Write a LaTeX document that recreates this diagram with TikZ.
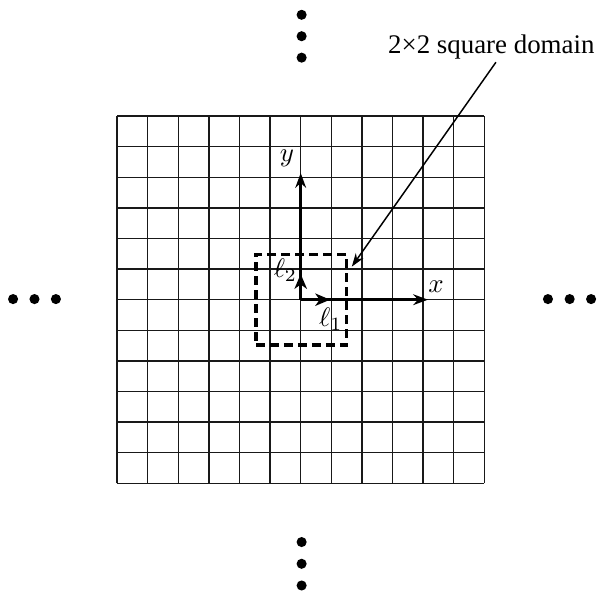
\documentclass[tikz,border=0pt]{standalone}
\usepackage{fontspec}
\setmainfont{Liberation Serif}
\usetikzlibrary{arrows.meta}
\tikzset{
    gridline/.style={black!90,line width=.5pt},
    axis/.style={line width=1pt,-{Stealth[length=5.5pt,width=4pt]}},
    unitvec/.style={line width=1pt,-{Stealth[length=5.5pt,width=4.6pt,inset=1.6pt]}},
    domainbox/.style={draw,line width=1.2pt,dash pattern=on 3.4pt off 1.8pt,minimum size=1.184cm,inner sep=0pt},
    pointer/.style={line width=.55pt,-{Stealth[length=5pt,width=3.4pt]}},
    dotmark/.style={fill=black}
}
\begin{document}
\begin{tikzpicture}[x=0.4cm,y=0.4cm,every node/.style={font=\fontsize{10}{12}\selectfont}]
    \useasboundingbox (-9.827,-9.618) rectangle (9.683,9.794);
    % lattice
    \draw[gridline,step=0.4cm] (-6,-6) grid (6,6);
    % axes and unit vectors
    \coordinate (o) at (0,0);
    \coordinate (xend) at (4.16,0);
    \coordinate (yend) at (0,4.14);
    \coordinate (l1end) at (0.96,0);
    \coordinate (l2end) at (0,0.84);
    \draw[axis] (o) -- (xend);
    \draw[axis] (o) -- (yend);
    \draw[unitvec] (o) -- (l1end);
    \draw[unitvec] (o) -- (l2end);
    \node (xlab) at (4.42,0.43) {$x$};
    \node (ylab) at (-0.45,4.63) {$y$};
    \node (l1lab) at (0.98,-0.63) {$\ell_1$};
    \node (l2lab) at (-0.5,0.97) {$\ell_2$};
    % unit cell
    \node[domainbox] (domain) at (0.02,0) {};
    \node[anchor=base] (domainlabel) at (6.23,8.06) {2×2 square domain};
    \coordinate (ptrstart) at (6.38,7.76);
    \coordinate (ptrtip) at (1.67,1.08);
    \draw[pointer] (ptrstart) -- (ptrtip);
    % continuation dots
    \foreach \d in {8.0,8.7,9.4}
        \fill[dotmark] (-\d,0.02) circle (0.165);
    \foreach \d in {8.08,8.79,9.49}
        \fill[dotmark] (\d,0.02) circle (0.165);
    \foreach \d in {7.91,8.61,9.31}
        \fill[dotmark] (0.03,\d) circle (0.165);
    \foreach \d in {7.92,8.63,9.34}
        \fill[dotmark] (0.03,-\d) circle (0.165);
\end{tikzpicture}
\end{document}
